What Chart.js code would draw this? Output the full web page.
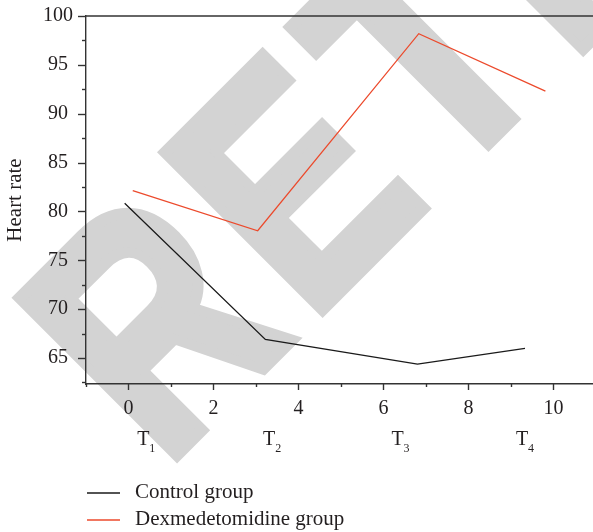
<!DOCTYPE html>
<html>
<head>
<meta charset="utf-8">
<script src="https://cdn.jsdelivr.net/npm/chart.js@4"></script>
<style>
  html, body { margin: 0; padding: 0; background: #fff; }
  canvas { display: block; }
</style>
</head>
<body>
<canvas id="canvas" width="593" height="532"></canvas>
<script>
// valeurs
const controlX = [-0.09, 3.22, 6.80, 9.33];
const controlY = [80.83, 66.91, 64.38, 65.99];
const dexX = [0.10, 3.04, 6.83, 9.81];
const dexY = [82.12, 78.02, 98.19, 92.32];
const timeLabels = ["1", "2", "3", "4"];
const timeX = [0.35, 3.31, 6.33, 9.26];
const seriesNames = ["Control group", "Dexmedetomidine group"];
const watermark = "RETRACTED";

const toPoints = (xs, ys) => xs.map((x, i) => ({ x: x, y: ys[i] }));
const serif = "'Liberation Serif', 'DejaVu Serif', serif";
const ink = "#231f20";

// filigrane gris sous tout le reste
const watermarkPlugin = {
  id: "watermark",
  beforeDraw(chart) {
    const ctx = chart.ctx;
    ctx.save();
    ctx.translate(164, 468);
    ctx.rotate(-Math.PI / 4);
    ctx.scale(0.8, 1);
    ctx.font = "bold 323px 'Liberation Sans', Arial, sans-serif";
    ctx.letterSpacing = "24px";
    ctx.fillStyle = "#d3d3d3";
    ctx.strokeStyle = "#d3d3d3";
    ctx.lineWidth = 12;
    ctx.lineJoin = "miter";
    ctx.textBaseline = "alphabetic";
    ctx.fillText(watermark, 0, 0);
    ctx.strokeText(watermark, 0, 0);
    ctx.restore();
  },
};

// graduations, ligne du haut, T1..T4 et légende
const decorPlugin = {
  id: "decor",
  afterDraw(chart) {
    const ctx = chart.ctx;
    const area = chart.chartArea;
    const xs = chart.scales.x;
    const ys = chart.scales.y;
    ctx.save();
    ctx.strokeStyle = "#333";
    ctx.lineWidth = 1.4;

    // ligne du haut
    ctx.beginPath();
    ctx.moveTo(area.left, area.top);
    ctx.lineTo(area.right, area.top);
    ctx.stroke();

    // graduations x
    xs.ticks.forEach((t) => {
      const px = Math.round(xs.getPixelForValue(t.value)) + 0.5;
      const len = t.value % 2 === 0 ? 6 : 3;
      ctx.beginPath();
      ctx.moveTo(px, area.bottom);
      ctx.lineTo(px, area.bottom + len);
      ctx.stroke();
    });

    // graduations y
    ys.ticks.forEach((t) => {
      const py = Math.round(ys.getPixelForValue(t.value)) + 0.5;
      ctx.beginPath();
      ctx.moveTo(area.left, py);
      ctx.lineTo(area.left - 8, py);
      ctx.stroke();
      const pm = Math.round(ys.getPixelForValue(t.value - 2.5)) + 0.5;
      ctx.beginPath();
      ctx.moveTo(area.left, pm);
      ctx.lineTo(area.left - 4, pm);
      ctx.stroke();
    });

    // T1..T4
    ctx.fillStyle = ink;
    ctx.textBaseline = "alphabetic";
    timeLabels.forEach((lab, i) => {
      const px = xs.getPixelForValue(timeX[i]);
      ctx.font = "20px " + serif;
      ctx.textAlign = "center";
      ctx.fillText("T", px, 445);
      ctx.font = "12px " + serif;
      ctx.textAlign = "left";
      ctx.fillText(lab, px + 6, 452);
    });

    // légende
    chart.data.datasets.forEach((ds, i) => {
      const y = 493 + i * 27;
      ctx.strokeStyle = ds.borderColor;
      ctx.lineWidth = 1.3;
      ctx.beginPath();
      ctx.moveTo(87, y);
      ctx.lineTo(120, y);
      ctx.stroke();
      ctx.fillStyle = ink;
      ctx.font = "21px " + serif;
      ctx.textAlign = "left";
      ctx.textBaseline = "alphabetic";
      ctx.fillText(ds.label, 135, y + 5);
    });
    ctx.restore();
  },
};

const ctx = document.getElementById("canvas").getContext("2d");
new Chart(ctx, {
  type: "line",
  data: {
    datasets: [
      {
        label: seriesNames[0],
        data: toPoints(controlX, controlY),
        borderColor: "#1a1a1a",
        borderWidth: 1.3,
        pointRadius: 0,
        tension: 0,
      },
      {
        label: seriesNames[1],
        data: toPoints(dexX, dexY),
        borderColor: "#ec4a2c",
        borderWidth: 1.3,
        pointRadius: 0,
        tension: 0,
      },
    ],
  },
  options: {
    responsive: false,
    animation: false,
    devicePixelRatio: 1,
    layout: { padding: { top: 16, left: 0, right: 0, bottom: 0 } },
    plugins: { legend: { display: false }, tooltip: { enabled: false } },
    scales: {
      x: {
        type: "linear",
        min: -1,
        max: 10.93,
        grid: { display: false, drawTicks: false },
        border: { display: true, color: "#333", width: 1.4 },
        ticks: {
          stepSize: 1,
          includeBounds: false,
          autoSkip: false,
          maxRotation: 0,
          padding: 13,
          color: ink,
          font: { family: serif, size: 20 },
          callback: (v) => (v % 2 === 0 ? String(v) : ""),
        },
        afterFit: (scale) => {
          scale.height = 148;
          scale.paddingLeft = 0;
          scale.paddingRight = 0;
        },
      },
      y: {
        min: 62.34,
        max: 100,
        grid: { display: false, drawTicks: false },
        border: { display: true, color: "#333", width: 1.4 },
        ticks: {
          stepSize: 5,
          includeBounds: false,
          padding: 13,
          crossAlign: "center",
          color: ink,
          font: { family: serif, size: 20 },
        },
        title: {
          display: true,
          text: "Heart rate",
          color: ink,
          font: { family: serif, size: 21 },
          padding: { top: 3, bottom: 0 },
        },
        afterFit: (scale) => {
          scale.width = 86;
          scale.paddingTop = 0;
          scale.paddingBottom = 0;
        },
      },
    },
  },
  plugins: [watermarkPlugin, decorPlugin],
});
</script>
</body>
</html>
